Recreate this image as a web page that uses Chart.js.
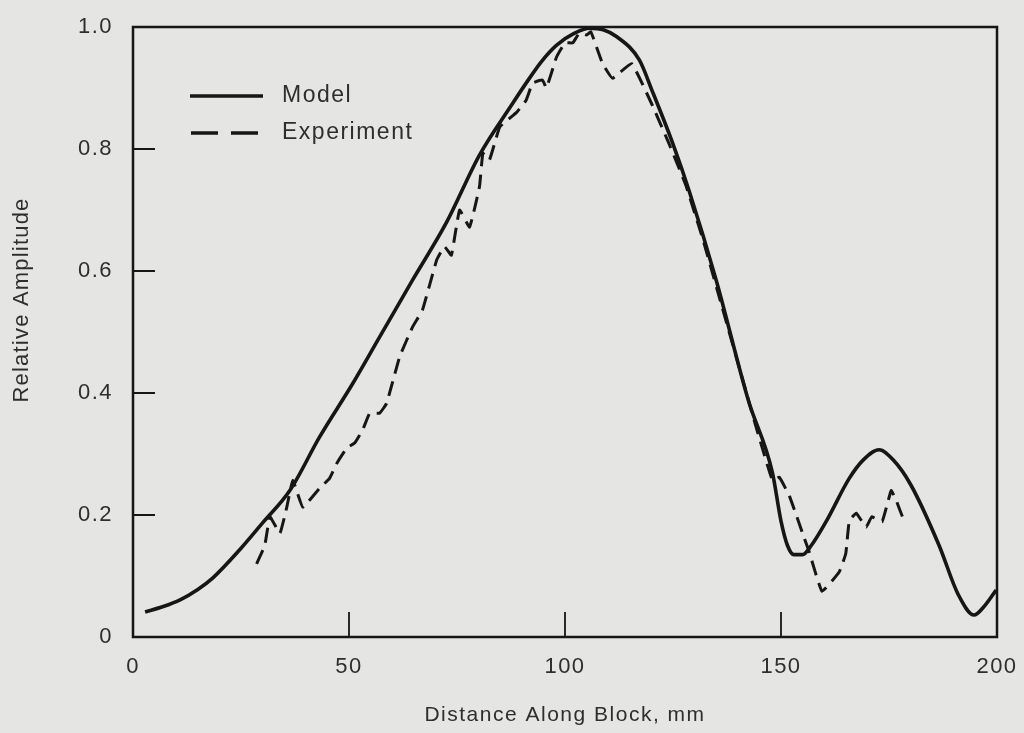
<!DOCTYPE html>
<html>
<head>
<meta charset="utf-8">
<script src="https://cdn.jsdelivr.net/npm/chart.js@4"></script>
<style>
  html, body { margin: 0; padding: 0; background: #e5e5e3; }
  #wrap { width: 1024px; height: 733px; }
</style>
</head>
<body>
<div id="wrap"><canvas id="myChart" width="1024" height="733"></canvas></div>
<script>
// model curve (mm, relative amplitude)
const modelX = [2.8, 7, 10.9, 15, 18.5, 24.7, 30, 36.3, 43.2, 50.9, 57.1, 64.7, 72.6, 80.2, 87.9, 91, 94.5, 98, 102, 105.7, 109, 112, 117.2, 120.2, 124.9, 128.8, 135, 142.4, 148, 150, 151.5, 153, 155, 157, 160.5, 165.8, 169, 172.7, 176, 180, 186.6, 191, 194.7, 197, 199.8];
const modelY = [0.041, 0.05, 0.061, 0.078, 0.097, 0.143, 0.187, 0.24, 0.328, 0.416, 0.492, 0.585, 0.68, 0.79, 0.875, 0.908, 0.943, 0.97, 0.989, 0.998, 0.995, 0.984, 0.946, 0.895, 0.81, 0.73, 0.585, 0.389, 0.27, 0.19, 0.15, 0.135, 0.135, 0.15, 0.19, 0.26, 0.29, 0.307, 0.29, 0.25, 0.15, 0.07, 0.036, 0.05, 0.077];

// experiment, dashed
const expX = [28.6, 30.5, 31.7, 34, 35.6, 37, 39.3, 43.2, 45.5, 47.2, 49.5, 51.3, 53.2, 54.8, 57.1, 58.7, 61.7, 64.7, 67, 70.3, 72.1, 73.7, 75.6, 77.9, 80.2, 81, 82.5, 84.9, 88.8, 91, 92.5, 94.8, 95.7, 98, 100, 101.8, 103.3, 105, 106, 108.7, 111, 115.4, 120, 124, 128, 132, 136, 140, 144, 148, 149.6, 152, 155, 156.5, 159.5, 163.5, 165, 165.8, 167.4, 169.7, 171, 173.4, 175.5, 176.6, 178.5];
const expY = [0.12, 0.15, 0.197, 0.17, 0.213, 0.257, 0.213, 0.244, 0.26, 0.285, 0.31, 0.318, 0.34, 0.367, 0.367, 0.383, 0.459, 0.508, 0.536, 0.618, 0.64, 0.626, 0.70, 0.672, 0.738, 0.793, 0.782, 0.836, 0.86, 0.88, 0.908, 0.913, 0.9, 0.95, 0.974, 0.974, 0.99, 0.987, 0.992, 0.94, 0.916, 0.94, 0.875, 0.81, 0.74, 0.65, 0.55, 0.45, 0.35, 0.257, 0.262, 0.23, 0.17, 0.14, 0.075, 0.107, 0.137, 0.19, 0.203, 0.18, 0.197, 0.189, 0.24, 0.225, 0.19];

const xTicks = [0, 50, 100, 150, 200];
const yTicks = [0, 0.2, 0.4, 0.6, 0.8, 1.0];

const ink = '#161616';
const txt = '#2e2e2e';
const fam = '"Liberation Sans", Arial, sans-serif';

const toPts = (xs, ys) => xs.map((x, i) => ({ x: x, y: ys[i] }));

// wider letter spacing, like the typeset original
const spacing = {
    id: 'spacing',
    beforeDraw(chart) { chart.ctx.letterSpacing = '1.5px'; }
};

// frame, inward ticks, legend, y title
const extras = {
    id: 'extras',
    afterDraw(chart) {
        const ctx = chart.ctx;
        const a = chart.chartArea;
        const xs = chart.scales.x, ys = chart.scales.y;
        ctx.save();
        ctx.strokeStyle = ink;
        ctx.lineWidth = 2.5;
        ctx.strokeRect(a.left, a.top, a.right - a.left, a.bottom - a.top);
        ctx.lineWidth = 1.8;
        ctx.beginPath();
        xTicks.slice(1, -1).forEach(v => {
            const px = xs.getPixelForValue(v);
            ctx.moveTo(px, a.bottom);
            ctx.lineTo(px, a.bottom - 25);
        });
        yTicks.slice(1, -1).forEach(v => {
            const py = ys.getPixelForValue(v);
            ctx.moveTo(a.left, py);
            ctx.lineTo(a.left + 22, py);
        });
        ctx.stroke();

        // legend
        ctx.lineWidth = 3.5;
        ctx.beginPath();
        ctx.moveTo(190, 96); ctx.lineTo(263, 96);
        ctx.stroke();
        ctx.setLineDash([27, 13]);
        ctx.beginPath();
        ctx.moveTo(191, 133); ctx.lineTo(263, 133);
        ctx.stroke();
        ctx.setLineDash([]);
        ctx.fillStyle = txt;
        ctx.letterSpacing = '1.5px';
        ctx.font = '23px ' + fam;
        ctx.textBaseline = 'middle';
        ctx.fillText('Model', 282, 96);
        ctx.fillText('Experiment', 282, 133);

        // y axis title
        ctx.letterSpacing = '1.2px';
        ctx.font = '22px ' + fam;
        ctx.translate(22, 300);
        ctx.rotate(-Math.PI / 2);
        ctx.textAlign = 'center';
        ctx.fillText('Relative Amplitude', 0, 0);
        ctx.restore();
    }
};

const ctx = document.getElementById('myChart').getContext('2d');
new Chart(ctx, {
    type: 'line',
    data: {
        datasets: [{
            label: 'Model',
            data: toPts(modelX, modelY),
            borderColor: ink,
            borderWidth: 3.6,
            pointRadius: 0,
            cubicInterpolationMode: 'monotone',
            fill: false
        }, {
            label: 'Experiment',
            data: toPts(expX, expY),
            borderColor: ink,
            borderWidth: 3,
            borderDash: [15, 8],
            pointRadius: 0,
            tension: 0.1,
            fill: false
        }]
    },
    plugins: [spacing, extras],
    options: {
        responsive: false,
        animation: false,
        layout: { padding: { top: 27, right: 27, left: 0, bottom: 0 } },
        plugins: { legend: { display: false }, tooltip: { enabled: false } },
        scales: {
            x: {
                type: 'linear',
                min: 0, max: 200,
                afterBuildTicks: s => { s.ticks = xTicks.map(v => ({ value: v })); },
                afterFit: s => { s.height = 96; s.paddingLeft = 0; s.paddingRight = 0; },
                grid: { display: false, drawTicks: false },
                border: { display: false },
                ticks: { color: txt, font: { family: fam, size: 22 }, padding: 17, maxRotation: 0 },
                title: { display: true, text: 'Distance Along Block, mm', color: txt, font: { family: fam, size: 21 }, padding: { bottom: 5 } }
            },
            y: {
                min: 0, max: 1,
                afterBuildTicks: s => { s.ticks = yTicks.map(v => ({ value: v })); },
                afterFit: s => { s.width = 133; s.paddingTop = 0; s.paddingBottom = 0; },
                grid: { display: false, drawTicks: false },
                border: { display: false },
                ticks: { color: txt, font: { family: fam, size: 22 }, padding: 20,
                    callback: v => v === 0 ? '0' : v.toFixed(1) }
            }
        }
    }
});
</script>
</body>
</html>
